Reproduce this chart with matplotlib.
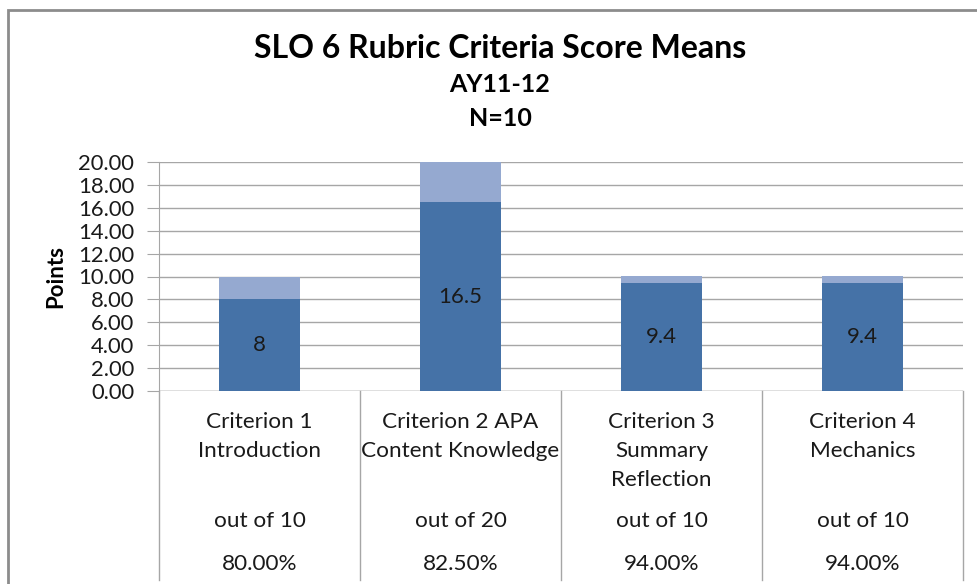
import matplotlib.pyplot as plt
from matplotlib.patches import Rectangle
from matplotlib.transforms import blended_transform_factory

plt.rcParams['font.family'] = ['Lato', 'DejaVu Sans']

# Data
categories = ["Criterion 1\nIntroduction", "Criterion 2 APA\nContent Knowledge",
              "Criterion 3\nSummary\nReflection", "Criterion 4\nMechanics"]
means = [8, 16.5, 9.4, 9.4]
max_points = [10, 20, 10, 10]
value_labels = ["8", "16.5", "9.4", "9.4"]
out_of = ["out of 10", "out of 20", "out of 10", "out of 10"]
percents = ["80.00%", "82.50%", "94.00%", "94.00%"]

dark = '#4572A7'
light = '#95A9D0'
grid_col = '#A6A6A6'
txt = '#1a1a1a'

fig = plt.figure(figsize=(9.78, 5.84), dpi=100)
ax = fig.add_axes([159/978, 1 - 391/584, (963 - 159)/978, (391 - 162)/584])

x = list(range(len(categories)))
remainder = [m - v for m, v in zip(max_points, means)]
ax.bar(x, means, width=0.4, color=dark, zorder=3)
ax.bar(x, remainder, bottom=means, width=0.4, color=light, zorder=3)

for i, (v, lab) in enumerate(zip(means, value_labels)):
    ax.text(i, v / 2, lab, ha='center', va='center', fontsize=16, color=txt, zorder=4)

ax.set_xlim(-0.5, len(categories) - 0.5)
ax.set_ylim(0, 20)
ax.set_yticks(range(0, 21, 2))
ax.set_yticklabels([f"{t:.2f}" for t in range(0, 21, 2)], fontsize=15.8, color=txt)
ax.yaxis.grid(True, color=grid_col, linewidth=1, zorder=0)
ax.tick_params(axis='y', length=9, color=grid_col, pad=9)
ax.set_xticks([])
for side in ['top', 'right', 'bottom']:
    ax.spines[side].set_visible(False)
ax.spines['left'].set_color(grid_col)
ax.axhline(0, color=grid_col, linewidth=1, zorder=2)
ax.set_ylabel("Points", fontsize=16, fontweight='bold', labelpad=8)

# category table below the axis
tr = blended_transform_factory(ax.transData, ax.transAxes)
y_bottom = -(580 - 391) / 229
for b in [i - 0.5 for i in range(len(categories) + 1)]:
    ax.plot([b, b], [0, y_bottom], transform=tr, color=grid_col, linewidth=1, clip_on=False)

for i in x:
    ax.text(i, -(412 - 391) / 229, categories[i], transform=tr, ha='center', va='top',
            fontsize=16.2, color=txt, linespacing=1.55)
    ax.text(i, -(521 - 391) / 229, out_of[i], transform=tr, ha='center', va='center',
            fontsize=16.2, color=txt)
    ax.text(i, -(564 - 391) / 229, percents[i], transform=tr, ha='center', va='center',
            fontsize=16.2, color=txt)

# titles
cx = 500 / 978
fig.text(cx, 1 - 49/584, "SLO 6 Rubric Criteria Score Means", ha='center', va='center',
         fontsize=23, fontweight='bold')
fig.text(cx, 1 - 85/584, "AY11-12", ha='center', va='center', fontsize=18, fontweight='bold')
fig.text(cx, 1 - 118/584, "N=10", ha='center', va='center', fontsize=18, fontweight='bold')

# outer chart border
fig.patches.append(Rectangle((8/978, -0.1), 1.2, 1 - 10/584 + 0.1, transform=fig.transFigure,
                             fill=False, edgecolor='#8C8C8C', linewidth=2))

plt.savefig('out.png', dpi=100)
